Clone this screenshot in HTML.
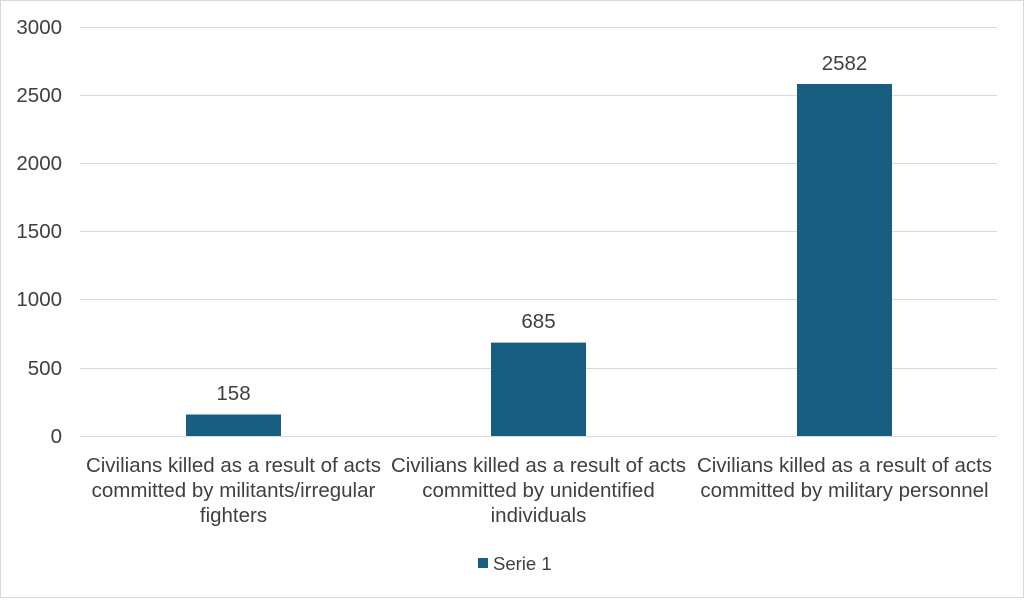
<!DOCTYPE html>
<html><head><meta charset="utf-8"><style>
body{margin:0;background:#fff;}
svg text{font-family:"Liberation Sans",sans-serif;fill:#404040;}
</style></head><body>
<svg width="1024" height="598" xmlns="http://www.w3.org/2000/svg">
<rect x="0.5" y="0.5" width="1023" height="597" fill="#fff" stroke="#d9d9d9"/>
<g stroke="#d9d9d9" stroke-width="1">
<line x1="80" x2="997" y1="27.5" y2="27.5"/>
<line x1="80" x2="997" y1="95.5" y2="95.5"/>
<line x1="80" x2="997" y1="163.5" y2="163.5"/>
<line x1="80" x2="997" y1="231.5" y2="231.5"/>
<line x1="80" x2="997" y1="299.5" y2="299.5"/>
<line x1="80" x2="997" y1="368.5" y2="368.5"/>
<line x1="80" x2="997" y1="436.5" y2="436.5"/>
</g>
<g font-size="20.5" text-anchor="end">
<text x="62" y="34">3000</text>
<text x="62" y="102">2500</text>
<text x="62" y="170">2000</text>
<text x="62" y="238">1500</text>
<text x="62" y="306">1000</text>
<text x="62" y="375">500</text>
<text x="62" y="443">0</text>
</g>
<g fill="#175e80">
<rect x="186" y="414.5" width="95" height="21.5"/>
<rect x="491" y="342.6" width="95" height="93.4"/>
<rect x="797" y="84" width="95" height="352"/>
</g>
<g font-size="20.5" text-anchor="middle">
<text x="233.5" y="400">158</text>
<text x="538.5" y="328">685</text>
<text x="844.5" y="70">2582</text>
<text x="233.5" y="472">Civilians killed as a result of acts</text>
<text x="233.5" y="497">committed by militants/irregular</text>
<text x="233.5" y="522">fighters</text>
<text x="538.5" y="472">Civilians killed as a result of acts</text>
<text x="538.5" y="497">committed by unidentified</text>
<text x="538.5" y="522">individuals</text>
<text x="844.5" y="472">Civilians killed as a result of acts</text>
<text x="844.5" y="497">committed by military personnel</text>
</g>
<rect x="478" y="558" width="10" height="10" fill="#175e80"/>
<text x="493" y="570" font-size="18.5">Serie 1</text>
</svg>
</body></html>
